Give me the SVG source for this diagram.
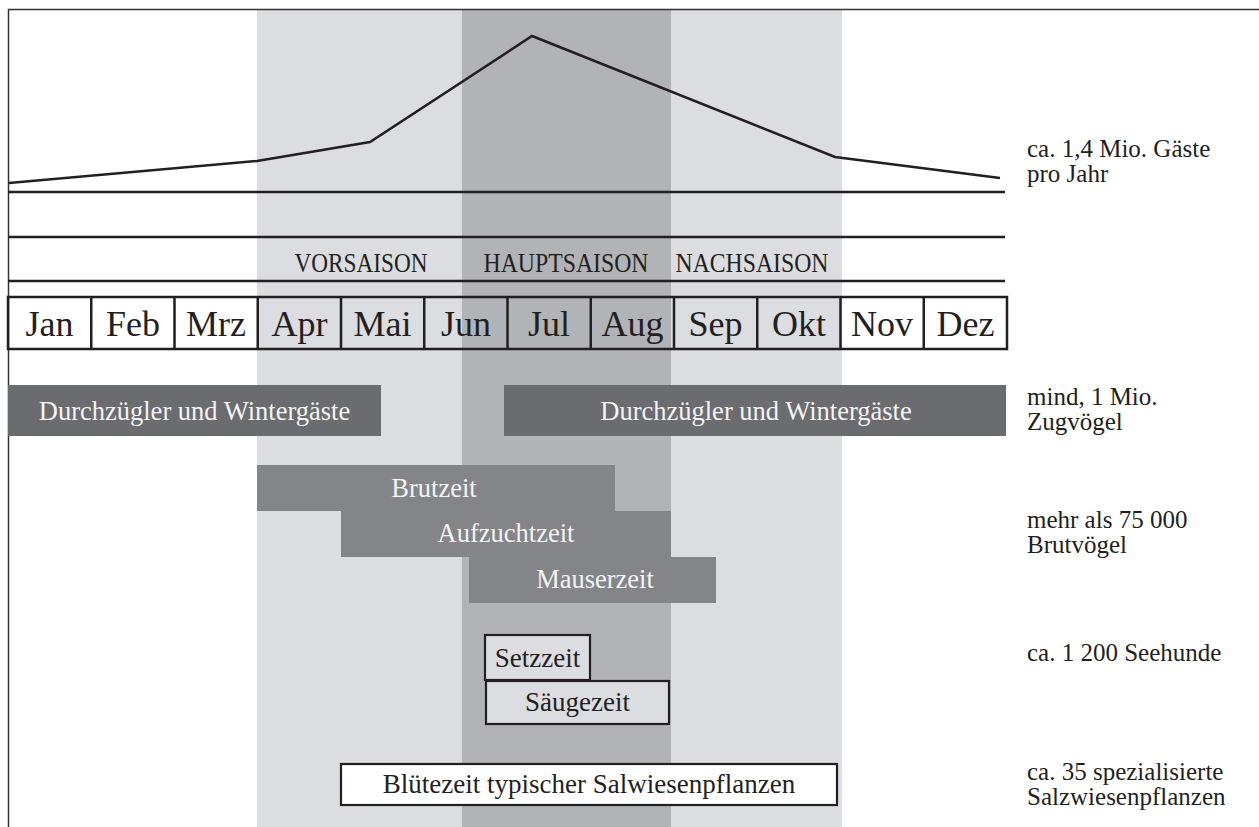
<svg xmlns="http://www.w3.org/2000/svg" width="1259" height="827" viewBox="0 0 1259 827">
<style>
text{font-family:"Liberation Serif","Times New Roman",serif;fill:#231f20}
.m{font-size:36px;text-anchor:middle}
.s{font-size:27px;text-anchor:middle}
.b{font-size:26.5px;text-anchor:middle;fill:#f4f4f4}
.w{font-size:27px;text-anchor:middle}
.r{font-size:25px}
.ln{stroke:#231f20;stroke-width:2.5;fill:none}
.bx{stroke:#231f20;stroke-width:2.2}
</style>
<rect width="1259" height="827" fill="#fff"/>
<g id="bands">
<rect x="257" y="10" width="585" height="817" fill="#dcdde0"/>
<rect x="462" y="10" width="209" height="817" fill="#b2b3b6"/>
</g>
<g id="frame">
<path d="M8.5 827V9.5H1259" fill="none" stroke="#333" stroke-width="1.5"/>
</g>
<g id="connectors">
<polyline class="ln" points="9,183 257,161 370,142 532,36 835,157 1000,178"/>
<line class="ln" x1="8" y1="192" x2="1005" y2="192"/>
<line class="ln" x1="8" y1="237" x2="1005" y2="237"/>
<line class="ln" x1="8" y1="281" x2="1005" y2="281"/>
</g>
<g id="seasons">
<text class="s" x="361" y="272" textLength="133" lengthAdjust="spacingAndGlyphs">VORSAISON</text>
<text class="s" x="566" y="272" textLength="165" lengthAdjust="spacingAndGlyphs">HAUPTSAISON</text>
<text class="s" x="752" y="272" textLength="153" lengthAdjust="spacingAndGlyphs">NACHSAISON</text>
</g>
<g id="months">
<rect class="ln" x="8" y="297" width="999" height="52"/>
<path class="ln" d="M91.25 297V349M174.5 297V349M257.75 297V349M341 297V349M424.25 297V349M507.5 297V349M590.75 297V349M674 297V349M757.25 297V349M840.5 297V349M923.75 297V349"/>
<text class="m" x="49.6" y="336">Jan</text>
<text class="m" x="132.9" y="336">Feb</text>
<text class="m" x="216.1" y="336">Mrz</text>
<text class="m" x="299.4" y="336">Apr</text>
<text class="m" x="382.6" y="336">Mai</text>
<text class="m" x="465.9" y="336">Jun</text>
<text class="m" x="549.1" y="336">Jul</text>
<text class="m" x="632.4" y="336">Aug</text>
<text class="m" x="715.6" y="336">Sep</text>
<text class="m" x="798.9" y="336">Okt</text>
<text class="m" x="882.1" y="336">Nov</text>
<text class="m" x="965.4" y="336">Dez</text>
</g>
<g id="zug1"><rect x="8" y="385" width="373" height="51" fill="#6b6c70"/><text class="b" x="194.5" y="420">Durchzügler und Wintergäste</text></g>
<g id="zug2"><rect x="504" y="385" width="502" height="51" fill="#6b6c70"/><text class="b" x="756" y="420">Durchzügler und Wintergäste</text></g>
<g id="brut"><rect x="257" y="465" width="358" height="46" fill="#848589"/><text class="b" x="434" y="497">Brutzeit</text></g>
<g id="aufzucht"><rect x="341" y="511" width="330" height="46" fill="#848589"/><text class="b" x="506" y="542">Aufzuchtzeit</text></g>
<g id="mauser"><rect x="469" y="557" width="247" height="46" fill="#848589"/><text class="b" x="595" y="588">Mauserzeit</text></g>
<g id="setz"><rect class="bx" x="485" y="635" width="105" height="45" fill="#dcdde0"/><text class="w" x="537.5" y="667">Setzzeit</text></g>
<g id="saeuge"><rect class="bx" x="486" y="681" width="183" height="43" fill="#dcdde0"/><text class="w" x="577.5" y="711">Säugezeit</text></g>
<g id="bluete"><rect class="bx" x="341" y="764" width="496" height="41" fill="#fff"/><text class="w" x="589" y="793">Blütezeit typischer Salwiesenpflanzen</text></g>
<g id="labels">
<text class="r" x="1027" y="157">ca. 1,4 Mio. Gäste<tspan x="1027" dy="25">pro Jahr</tspan></text>
<text class="r" x="1027" y="405">mind, 1 Mio.<tspan x="1027" dy="25">Zugvögel</tspan></text>
<text class="r" x="1027" y="528">mehr als 75 000<tspan x="1027" dy="25">Brutvögel</tspan></text>
<text class="r" x="1027" y="661">ca. 1 200 Seehunde</text>
<text class="r" x="1027" y="780">ca. 35 spezialisierte<tspan x="1027" dy="25">Salzwiesenpflanzen</tspan></text>
</g>
</svg>
